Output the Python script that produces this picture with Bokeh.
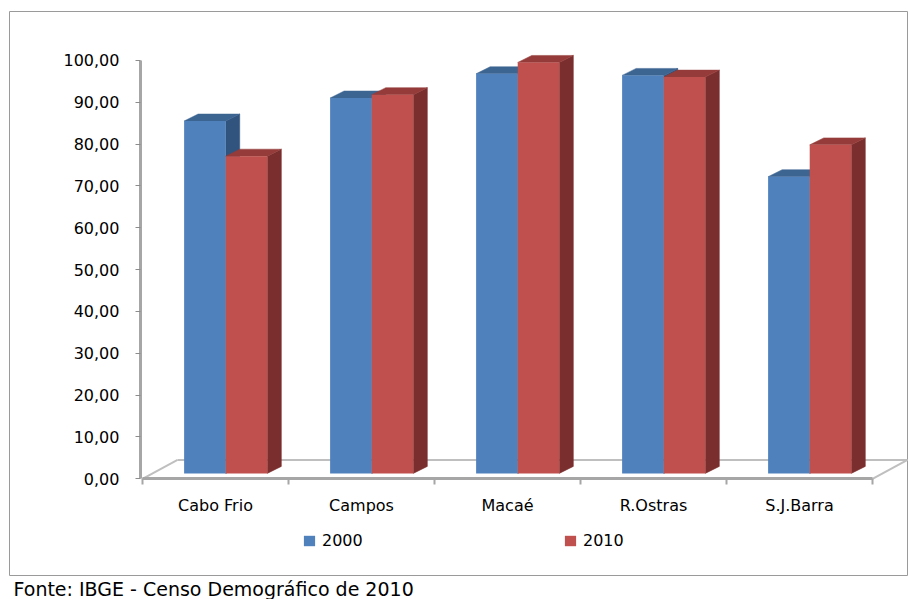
from bokeh.plotting import figure
from bokeh.models import (Range1d, LinearAxis, FixedTicker, Legend, LegendItem,
                          Title, ColumnDataSource)
from bokeh.embed import file_html
from bokeh.resources import INLINE

# --- data -------------------------------------------------------------
cities = ["Cabo Frio", "Campos", "Macaé", "R.Ostras", "S.J.Barra"]
series_2000 = [84.2, 89.7, 95.5, 95.1, 70.9]
series_2010 = [75.8, 90.5, 98.2, 94.7, 78.5]
y_ticks = [0, 10, 20, 30, 40, 50, 60, 70, 80, 90, 100]
y_tick_labels = ["0,00", "10,00", "20,00", "30,00", "40,00", "50,00",
                 "60,00", "70,00", "80,00", "90,00", "100,00"]
source_note = "Fonte: IBGE - Censo Demográfico de 2010"

# --- pseudo-3D geometry (in data units) --------------------------------
BAR_W = 0.285          # width of a single column face (category units)
FX, FY = 0.07, 1.3     # column front plane, measured back from the floor edge
DX, DY = 0.096, 1.67   # column depth
FLOOR_DX, FLOOR_DY = 0.24, 4.52

BLUE = dict(front="#4F81BD", top="#3D6592", side="#31547E")
RED = dict(front="#C0504D", top="#953C3A", side="#7A2F2E")
GRID_GREY = "#A6A6A6"
FONT = "DejaVu Sans"

p = figure(width=908, height=599,
           x_range=Range1d(-0.911, 5.2466), y_range=Range1d(-23.1, 111.67),
           x_axis_type=None, y_axis_type=None,
           output_backend="svg", toolbar_location=None,
           min_border_left=9, min_border_right=0, min_border_top=11,
           min_border_bottom=0)
p.background_fill_color = "white"
p.border_fill_color = "white"
p.outline_line_color = "#9A9A9A"
p.outline_line_width = 1

# floor: back edge and the two side edges (front edge is the x axis line)
n = len(cities)
p.segment(x0=[FLOOR_DX, 0, n], y0=[FLOOR_DY, 0, 0],
          x1=[n + FLOOR_DX, FLOOR_DX, n + FLOOR_DX], y1=[FLOOR_DY, FLOOR_DY, FLOOR_DY],
          line_color="#BFBFBF", line_width=2)


def column_faces(values, offset_sign):
    lefts, rights, tops = [], [], []
    top_xs, top_ys, side_xs, side_ys = [], [], [], []
    for i, v in enumerate(values):
        c = i + 0.5 + FX
        x0 = c - BAR_W if offset_sign < 0 else c
        x1 = c if offset_sign < 0 else c + BAR_W
        top = FY + v
        lefts.append(x0); rights.append(x1); tops.append(top)
        top_xs.append([x0, x1, x1 + DX, x0 + DX])
        top_ys.append([top, top, top + DY, top + DY])
        side_xs.append([x1, x1, x1 + DX, x1 + DX])
        side_ys.append([FY, top, top + DY, FY + DY])
    front = ColumnDataSource(dict(left=lefts, right=rights, top=tops,
                                  bottom=[FY] * len(values), value=values))
    return front, (top_xs, top_ys), (side_xs, side_ys)


renderers = []
for values, sign, col in ((series_2000, -1, BLUE), (series_2010, 1, RED)):
    front, (txs, tys), (sxs, sys_) = column_faces(values, sign)
    p.patches(xs=sxs, ys=sys_, fill_color=col["side"], line_color=col["side"], line_width=0.5)
    p.patches(xs=txs, ys=tys, fill_color=col["top"], line_color=col["top"], line_width=0.5)
    r = p.quad(left="left", right="right", top="top", bottom="bottom", source=front,
               fill_color=col["front"], line_color=None)
    renderers.append(r)

# value axis
yaxis = LinearAxis(fixed_location=-0.014, bounds=(0, 100),
                   ticker=FixedTicker(ticks=y_ticks, minor_ticks=[]),
                   major_label_overrides={t: s for t, s in zip(y_ticks, y_tick_labels)},
                   axis_line_color=GRID_GREY, axis_line_width=3,
                   major_tick_line_color="#8C8C8C", major_tick_out=5, major_tick_in=0,
                   major_label_standoff=16, major_label_text_font=FONT,
                   major_label_text_font_size="16px", major_label_text_color="black")
p.add_layout(yaxis, "left")

# category boundaries along the floor's front edge
xaxis = LinearAxis(fixed_location=0, bounds=(0, n),
                   ticker=FixedTicker(ticks=list(range(n + 1)), minor_ticks=[]),
                   major_label_overrides={t: "" for t in range(n + 1)},
                   axis_line_color=GRID_GREY, axis_line_width=3,
                   major_tick_line_color=GRID_GREY, major_tick_line_width=2,
                   major_tick_out=6, major_tick_in=0)
p.add_layout(xaxis, "below")

# category names
centers = [i + 0.5 for i in range(n)]
xlabels = LinearAxis(fixed_location=0,
                     ticker=FixedTicker(ticks=centers, minor_ticks=[]),
                     major_label_overrides={c: name for c, name in zip(centers, cities)},
                     axis_line_color=None, major_tick_line_color=None,
                     major_label_standoff=11, major_label_text_font=FONT,
                     major_label_text_font_size="16px", major_label_text_color="black")
p.add_layout(xlabels, "below")

legend = Legend(items=[LegendItem(label="2000", renderers=[renderers[0]]),
                       LegendItem(label="2010", renderers=[renderers[1]])],
                orientation="horizontal", location=(293, 25),
                glyph_width=14, glyph_height=13, label_height=13, label_width=241,
                label_standoff=6, spacing=0, padding=0, margin=0,
                border_line_color=None, background_fill_alpha=0,
                label_text_font=FONT, label_text_font_size="16px",
                label_text_color="black")
p.add_layout(legend)

p.add_layout(Title(text=source_note, align="left", offset=4, standoff=0,
                   text_font=FONT, text_font_size="19px",
                   text_font_style="normal", text_color="black"), "below")

open("out.html", "w").write(file_html(p, INLINE))
